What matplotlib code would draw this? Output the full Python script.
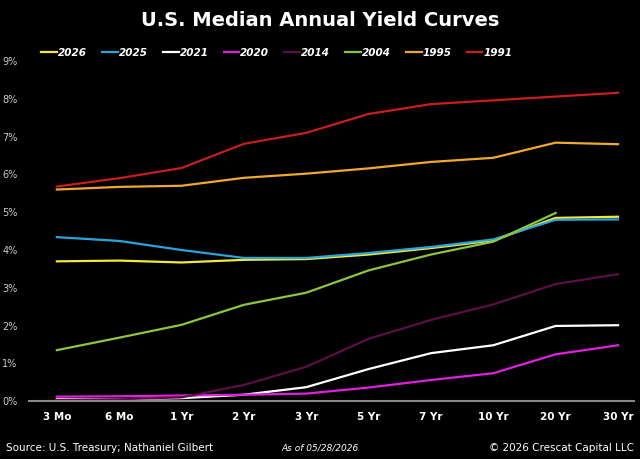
import matplotlib.pyplot as plt
import numpy as np

tenors = ['3 Mo', '6 Mo', '1 Yr', '2 Yr', '3 Yr', '5 Yr', '7 Yr', '10 Yr', '20 Yr', '30 Yr']
y2026 = [3.70, 3.72, 3.67, 3.74, 3.76, 3.88, 4.05, 4.25, 4.85, 4.88]
y2025 = [4.34, 4.24, 4.00, 3.79, 3.79, 3.92, 4.08, 4.28, 4.80, 4.81]
y2021 = [0.05, 0.05, 0.08, 0.17, 0.37, 0.85, 1.27, 1.48, 1.99, 2.01]
y2020 = [0.12, 0.13, 0.15, 0.17, 0.20, 0.36, 0.56, 0.74, 1.24, 1.48]
y2014 = [0.03, 0.05, 0.10, 0.43, 0.91, 1.65, 2.15, 2.56, 3.10, 3.36]
y2004 = [1.35, 1.68, 2.02, 2.55, 2.87, 3.46, 3.88, 4.22, 4.98, np.nan]
y1995 = [5.60, 5.67, 5.70, 5.91, 6.02, 6.16, 6.33, 6.44, 6.84, 6.80]
y1991 = [5.68, 5.90, 6.17, 6.81, 7.10, 7.60, 7.86, 7.96, 8.06, 8.16]

series = [('2026', y2026, '#f2e93a'), ('2025', y2025, '#2aa5dc'), ('2021', y2021, '#ffffff'),
          ('2020', y2020, '#e020e0'), ('2014', y2014, '#5a1046'), ('2004', y2004, '#8cc63f'),
          ('1995', y1995, '#f0a830'), ('1991', y1991, '#c81e1e')]

fig = plt.figure(figsize=(6.4, 4.59), dpi=100, facecolor='black')
ax = fig.add_axes([0.045, 0.126, 0.945, 0.741], facecolor='black')
x = np.arange(len(tenors))
for name, vals, col in series:
    ax.plot(x, vals, color=col, lw=1.6, label=name)

ax.set_xlim(-0.45, 9.25)
ax.set_ylim(0, 9)
ax.set_yticks(range(10))
ax.set_yticklabels([f'{i}%' for i in range(10)], color='#cccccc', fontsize=7)
ax.set_xticks(x)
ax.set_xticklabels(tenors, color='white', fontsize=7.5, fontweight='bold')
ax.tick_params(length=0, pad=8)
for s in ['top', 'right', 'left']:
    ax.spines[s].set_visible(False)
ax.spines['bottom'].set_color('#888888')
ax.spines['bottom'].set_linewidth(1.5)

leg = fig.legend(loc='center left', bbox_to_anchor=(0.05, 0.885), ncol=8, frameon=False,
                 fontsize=7.5, handlelength=1.5, handletextpad=0.1, columnspacing=1.45)
for t in leg.get_texts():
    t.set_color('white')
    t.set_fontstyle('italic')
    t.set_fontweight('bold')

fig.text(0.5, 0.955, 'U.S. Median Annual Yield Curves', color='white', fontsize=14,
         fontweight='bold', ha='center', va='center')
fig.text(0.01, 0.025, 'Source: U.S. Treasury; Nathaniel Gilbert', color='white', fontsize=7.5, va='center')
fig.text(0.5, 0.025, 'As of 05/28/2026', color='white', fontsize=6.5, fontstyle='italic', ha='center', va='center')
fig.text(0.99, 0.025, '© 2026 Crescat Capital LLC', color='white', fontsize=7.5, ha='right', va='center')

fig.savefig('out.png', dpi=100, facecolor='black')
